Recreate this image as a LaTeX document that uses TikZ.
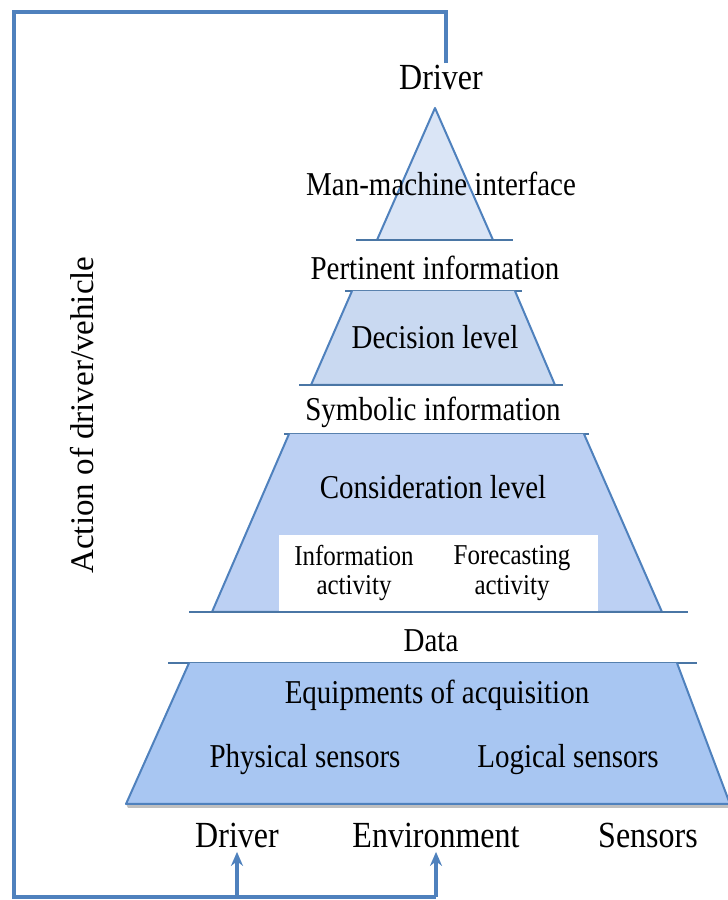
\documentclass[tikz,border=0pt]{standalone}
\usepackage{fontspec}
\setmainfont{Liberation Serif}
\usetikzlibrary{arrows.meta,calc}
\definecolor{edgeblue}{RGB}{79,129,189}
\definecolor{sepblue}{RGB}{74,118,165}
\definecolor{triblue}{RGB}{218,229,246}
\definecolor{decblue}{RGB}{201,217,241}
\definecolor{conblue}{RGB}{188,208,243}
\definecolor{acqblue}{RGB}{168,198,242}
\tikzset{
    >=Stealth,
    pyr/.style={
        lbl/.append style={font=\fontsize{29}{31}\selectfont,yscale=1.15,transform shape,inner sep=2pt},
        small/.append style={font=\fontsize{25}{26}\selectfont,yscale=1.15,transform shape,align=center,inner sep=1pt},
        big/.append style={font=\fontsize{32}{34}\selectfont,yscale=1.15,transform shape,inner sep=2pt},
        side/.append style={font=\fontsize{33}{35}\selectfont,rotate=90},
        level/.append style={draw=edgeblue,line width=2pt,line join=round},
        sep/.append style={draw=sepblue,line width=2pt},
        fb/.append style={draw=edgeblue,line width=3.5pt},
        up/.append style={-{Stealth[length=14pt,width=12pt]}}
    }
}

\begin{document}
\begin{tikzpicture}[pyr,x=1pt,y=1pt]
    \useasboundingbox (0,0) rectangle (728,900);
    % levels of the pyramid
    \filldraw[level,fill=triblue] (377,660) -- (435,792) -- (493,660);
    \draw[sep] (356,660) -- (513,660);
    \draw[sep] (345,609) -- (522,609);
    \filldraw[level,fill=decblue] (352,609) -- (311,515) -- (555,515) -- (515,609);
    \draw[sep] (299,515) -- (563,515);
    \draw[sep] (284,466) -- (589,466);
    \filldraw[level,fill=conblue] (289,466) -- (212,288) -- (662,288) -- (584,466);
    \fill[white] (279,288) rectangle (598,365);
    \draw[sep] (189,288) -- (688,288);
    \draw[sep] (168,237) -- (697,237);
    \fill[black!25] (128,92) -- (730,92) -- (730,96) -- (126,96) -- cycle;
    \filldraw[level,fill=acqblue] (189,237) -- (126,96) -- (730,96) -- (677,237);

    \node[big] (drvtop) at (441,822) {Driver};
    \node[lbl] (mmi) at (441,716) {Man-machine interface};
    \node[lbl] (pert) at (435,632) {Pertinent information};
    \node[lbl] (dec) at (435,563) {Decision level};
    \node[lbl] (sym) at (433,488) {Symbolic information};
    \node[lbl] (cons) at (433,413) {Consideration level};
    \node[small] (infoact) at (354,327) {Information\\activity};
    \node[small] (foreact) at (512,327) {Forecasting\\activity};
    \node[lbl] (data) at (431,259) {Data};
    \node[lbl] (equip) at (437,205) {Equipments of acquisition};
    \node[lbl] (phys) at (305,140) {Physical sensors};
    \node[lbl] (logi) at (568,140) {Logical sensors};
    \node[big] (drv) at (237,65) {Driver};
    \node[big] (env) at (436,65) {Environment};
    \node[big] (sens) at (648,65) {Sensors};
    \node[side] (action) at (82,485) {Action of driver/vehicle};

    % feedback loop
    \coordinate (fbtop) at (14,888);
    \coordinate (fbbot) at (14,3);
    \draw[fb] ($(drvtop.north)+(5,0)$) |- (fbtop) -- (fbbot) -- (fbbot -| env.south);
    \draw[fb,up] (fbbot -| drv.south) -- ($(drv.south)+(0,-2)$);
    \draw[fb,up] (fbbot -| env.south) -- ($(env.south)+(0,-2)$);
\end{tikzpicture}
\end{document}
